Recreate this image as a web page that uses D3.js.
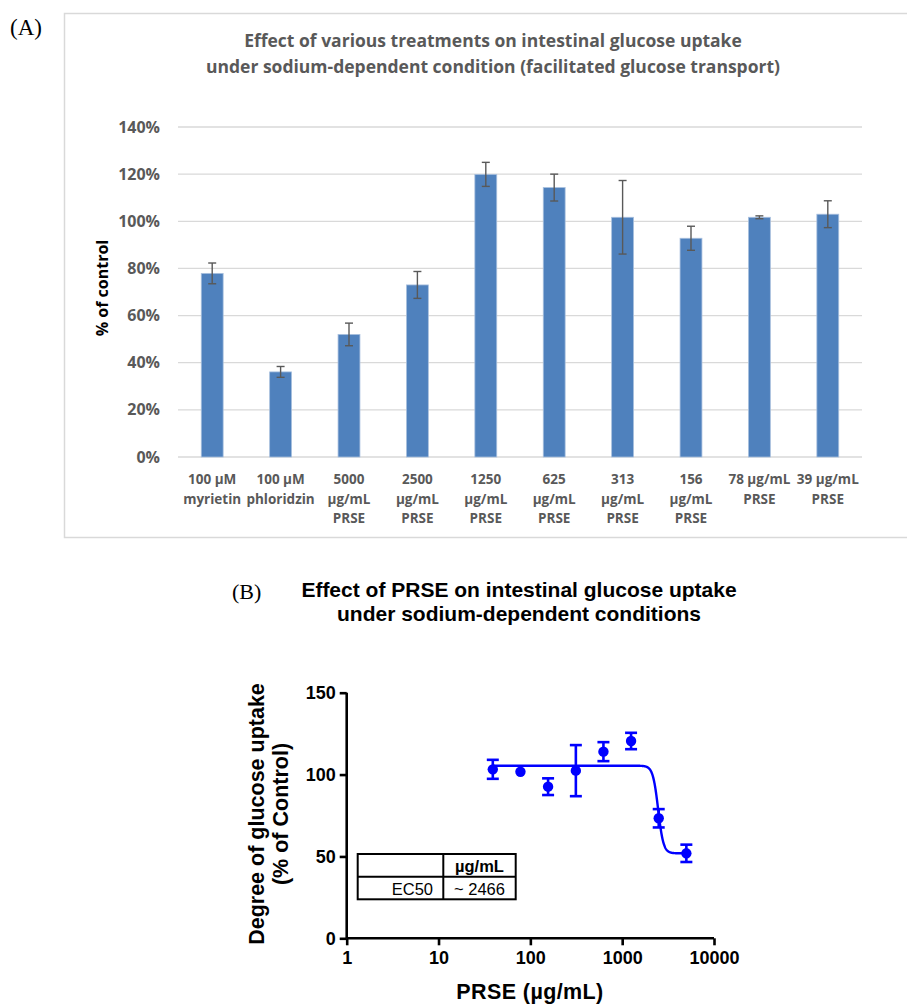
<!DOCTYPE html>
<html>
<head>
<meta charset="utf-8">
<script src="https://cdn.jsdelivr.net/npm/d3@7"></script>
<style>
  body { margin: 0; background: #fff; }
  svg { display: block; }
</style>
</head>
<body>
<svg width="907" height="1006"></svg>
<script>
// ---- data: panel A (bar chart) ----
const categories = [
  ["100 µM", "myrietin"],
  ["100 µM", "phloridzin"],
  ["5000", "µg/mL", "PRSE"],
  ["2500", "µg/mL", "PRSE"],
  ["1250", "µg/mL", "PRSE"],
  ["625", "µg/mL", "PRSE"],
  ["313", "µg/mL", "PRSE"],
  ["156", "µg/mL", "PRSE"],
  ["78 µg/mL", "PRSE"],
  ["39 µg/mL", "PRSE"]
];
const uptakePct = [77.9, 36.1, 52.0, 73.0, 119.9, 114.3, 101.7, 92.8, 101.7, 103.0];
const uptakeErr = [4.4, 2.3, 4.8, 5.7, 5.1, 5.7, 15.6, 5.1, 0.6, 5.7];
const yTicksA = [0, 20, 40, 60, 80, 100, 120, 140];

// ---- data: panel B (dose response) ----
const doses = [39, 78, 156, 313, 625, 1250, 2500, 5000];
const doseUptake = [103.2, 101.7, 92.6, 102.4, 114.0, 120.5, 73.3, 51.9];
const doseErr = [5.8, 0.6, 5.1, 15.6, 5.8, 5.0, 5.6, 5.3];
const xTicksB = [1, 10, 100, 1000, 10000];
const yTicksB = [0, 50, 100, 150];
// fitted 4-parameter logistic shown in the figure
const fitTop = 105.4, fitBottom = 51.9, fitEC50 = 2466, fitHill = 15;

const svg = d3.select("svg");

// ================= Panel A =================
const calibri = "'Open Sans', Lato, sans-serif";
const grey = "#595959";

svg.append("text").attr("x", 10).attr("y", 35)
  .style("font-family", "'Liberation Serif', serif").style("font-size", "23px")
  .text("(A)");

// frame (right edge runs off the image)
svg.append("path")
  .attr("d", "M 920 13.5 H 64.5 V 537.5 H 920")
  .attr("fill", "none").attr("stroke", "#d9d9d9").attr("stroke-width", 1.5);

const titleA = svg.append("text")
  .attr("text-anchor", "middle")
  .style("font-family", calibri).style("font-weight", "bold")
  .style("font-size", "17.5px").attr("fill", grey);
titleA.append("tspan").attr("x", 493).attr("y", 47).text("Effect of various treatments on intestinal glucose uptake");
titleA.append("tspan").attr("x", 493).attr("y", 73).text("under sodium-dependent condition (facilitated glucose transport)");

const xA = d3.scaleBand()
  .domain(d3.range(categories.length))
  .range([178, 862])
  .paddingInner(0.68)
  .paddingOuter(0.34);

const yA = d3.scaleLinear().domain([0, 140]).range([457, 127]);

const gA = svg.append("g");

gA.selectAll(".grid").data(yTicksA).enter().append("line")
  .attr("x1", 178).attr("x2", 862)
  .attr("y1", d => yA(d)).attr("y2", d => yA(d))
  .attr("stroke", "#d9d9d9").attr("stroke-width", 1.3);

const yAxisA = gA.append("g").attr("transform", "translate(178,0)")
  .call(d3.axisLeft(yA).tickValues(yTicksA).tickFormat(d => d + "%").tickSize(0).tickPadding(18));
yAxisA.select(".domain").remove();
yAxisA.selectAll("text")
  .style("font-family", calibri).style("font-weight", "bold")
  .style("font-size", "16px").attr("fill", grey);

gA.append("text")
  .attr("transform", "translate(108,288) rotate(-90)")
  .attr("text-anchor", "middle")
  .style("font-family", calibri).style("font-weight", "bold").style("font-size", "16px")
  .attr("fill", "#000")
  .text("% of control");

gA.selectAll(".bar").data(uptakePct).enter().append("rect")
  .attr("class", "bar")
  .attr("x", (d, i) => xA(i))
  .attr("width", xA.bandwidth())
  .attr("y", d => yA(d))
  .attr("height", d => yA(0) - yA(d))
  .attr("fill", "#4f81bd")
  .attr("stroke", "#a9c0de").attr("stroke-width", 0.8);

// error bars
const errA = gA.selectAll(".err").data(uptakePct).enter().append("g")
  .attr("stroke", "#595959").attr("stroke-width", 1.4);
errA.append("line")
  .attr("x1", (d, i) => xA(i) + xA.bandwidth() / 2)
  .attr("x2", (d, i) => xA(i) + xA.bandwidth() / 2)
  .attr("y1", (d, i) => yA(d + uptakeErr[i]))
  .attr("y2", (d, i) => yA(d - uptakeErr[i]));
[1, -1].forEach(s => {
  errA.append("line")
    .attr("x1", (d, i) => xA(i) + xA.bandwidth() / 2 - 4)
    .attr("x2", (d, i) => xA(i) + xA.bandwidth() / 2 + 4)
    .attr("y1", (d, i) => yA(d + s * uptakeErr[i]))
    .attr("y2", (d, i) => yA(d + s * uptakeErr[i]));
});

// category labels
const labA = gA.selectAll(".lab").data(categories).enter().append("text")
  .attr("text-anchor", "middle")
  .style("font-family", calibri).style("font-weight", "bold")
  .style("font-size", "13.5px").attr("fill", grey);
labA.each(function(lines, i) {
  d3.select(this).selectAll("tspan").data(lines).enter().append("tspan")
    .attr("x", xA(i) + xA.bandwidth() / 2)
    .attr("y", (d, j) => 484 + j * 19.5)
    .text(d => d);
});

// ================= Panel B =================
const arial = "'Liberation Sans', Arial, sans-serif";
const blue = "#0000ff";

svg.append("text").attr("x", 232).attr("y", 599)
  .style("font-family", "'Liberation Serif', serif").style("font-size", "22px")
  .text("(B)");

const titleB = svg.append("text")
  .attr("text-anchor", "middle")
  .style("font-family", arial).style("font-weight", "bold").style("font-size", "21px");
titleB.append("tspan").attr("x", 519).attr("y", 597).text("Effect of PRSE on intestinal glucose uptake");
titleB.append("tspan").attr("x", 519).attr("y", 621).text("under sodium-dependent conditions");

const xB = d3.scaleLog().domain([1, 10000]).range([346.7, 714]);
const yB = d3.scaleLinear().domain([0, 150]).range([938.3, 692.7]);

const gB = svg.append("g");

const xAxisB = gB.append("g").attr("transform", "translate(0,938.3)")
  .call(d3.axisBottom(xB).tickValues(xTicksB).tickFormat(d3.format("d")).tickSizeInner(7).tickSizeOuter(0).tickPadding(6));
const yAxisB = gB.append("g").attr("transform", "translate(346.7,0)")
  .call(d3.axisLeft(yB).tickValues(yTicksB).tickSizeInner(7).tickSizeOuter(0).tickPadding(4));
[xAxisB, yAxisB].forEach(ax => {
  ax.select(".domain").attr("stroke-width", 2.6);
  ax.selectAll(".tick line").attr("stroke-width", 2.6);
  ax.selectAll("text")
    .style("font-family", arial).style("font-weight", "bold").style("font-size", "18px")
    .attr("fill", "#000");
});
xAxisB.select(".domain").attr("d", "M346.7,0H714");
yAxisB.select(".domain").attr("d", "M0,938.3V692.7");

gB.append("text")
  .attr("x", 530).attr("y", 999)
  .attr("text-anchor", "middle")
  .style("font-family", arial).style("font-weight", "bold").style("font-size", "21.5px")
  .style("letter-spacing", "0.4px")
  .text("PRSE (µg/mL)");

const yTitleB = gB.append("text")
  .attr("transform", "translate(0,814) rotate(-90)")
  .attr("text-anchor", "middle")
  .style("font-family", arial).style("font-weight", "bold").style("font-size", "21.5px");
yTitleB.append("tspan").attr("x", 0).attr("y", 264).text("Degree of glucose uptake");
yTitleB.append("tspan").attr("x", 0).attr("y", 288).text("(% of Control)");

// fitted curve
const curveX = d3.range(Math.log10(doses[0]), Math.log10(doses[doses.length - 1]) + 0.0005, 0.002);
const fitLine = d3.line()
  .x(d => xB(Math.pow(10, d)))
  .y(d => yB(fitBottom + (fitTop - fitBottom) / (1 + Math.pow(Math.pow(10, d) / fitEC50, fitHill))));
gB.append("path").datum(curveX)
  .attr("d", fitLine)
  .attr("fill", "none").attr("stroke", blue).attr("stroke-width", 2.4);

// error bars
const errB = gB.selectAll(".errB").data(doses).enter().append("g")
  .attr("stroke", blue).attr("stroke-width", 2.6);
errB.filter((d, i) => doseErr[i] > 2).each(function(d) {
  const g = d3.select(this);
  const k = doses.indexOf(d);
  const cx = xB(d), hi = yB(doseUptake[k] + doseErr[k]), lo = yB(doseUptake[k] - doseErr[k]);
  g.append("line").attr("x1", cx).attr("x2", cx).attr("y1", hi).attr("y2", lo);
  g.append("line").attr("x1", cx - 6).attr("x2", cx + 6).attr("y1", hi).attr("y2", hi);
  g.append("line").attr("x1", cx - 6).attr("x2", cx + 6).attr("y1", lo).attr("y2", lo);
});

gB.selectAll(".pt").data(doses).enter().append("circle")
  .attr("cx", d => xB(d))
  .attr("cy", (d, i) => yB(doseUptake[i]))
  .attr("r", 5.2)
  .attr("fill", blue);

// EC50 table
const tbl = gB.append("g").attr("stroke", "#000").attr("stroke-width", 2);
tbl.append("rect").attr("x", 357.7).attr("y", 854).attr("width", 158).attr("height", 45.3).attr("fill", "#fff");
tbl.append("line").attr("x1", 443.3).attr("x2", 443.3).attr("y1", 854).attr("y2", 899.3);
tbl.append("line").attr("x1", 357.7).attr("x2", 515.7).attr("y1", 876.7).attr("y2", 876.7);
gB.append("text").attr("x", 479.5).attr("y", 872).attr("text-anchor", "middle")
  .style("font-family", arial).style("font-weight", "bold").style("font-size", "16.5px")
  .text("µg/mL");
gB.append("text").attr("x", 433).attr("y", 894.5).attr("text-anchor", "end")
  .style("font-family", arial).style("font-size", "16.5px")
  .text("EC50");
gB.append("text").attr("x", 479.5).attr("y", 894.5).attr("text-anchor", "middle")
  .style("font-family", arial).style("font-size", "16.5px")
  .text("~ 2466");
</script>
</body>
</html>
